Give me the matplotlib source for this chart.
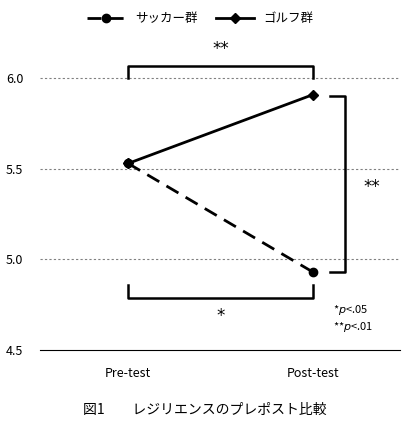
import matplotlib
matplotlib.use("Agg")
import matplotlib.pyplot as plt

plt.rcParams['font.family'] = ['Noto Sans CJK JP', 'DejaVu Sans']
plt.rcParams['font.size'] = 9

# datos
tiempos = ["Pre-test", "Post-test"]
soccer = [5.53, 4.93]
golf = [5.53, 5.91]
yticks = [4.5, 5.0, 5.5, 6.0]

fig = plt.figure(figsize=(4.09, 4.29), dpi=100)
ax = fig.add_axes([0.098, 0.184, 0.88, 0.718])
x = [0, 1]

for y in yticks[1:]:
    ax.axhline(y, color='gray', ls=(0, (2, 2)), lw=0.8, zorder=0)

ax.plot(x, soccer, color='k', ls=(0, (5, 3)), lw=2, marker='o', ms=6, label='サッカー群')
ax.plot(x, golf, color='k', ls='-', lw=2, marker='D', ms=5, label='ゴルフ群')

# brackets
kw = dict(color='k', lw=1.8, clip_on=False)
star = dict(ha='center', va='center', fontsize=12, family='DejaVu Sans')
ax.plot([0, 0, 1, 1], [6.0, 6.07, 6.07, 6.0], **kw)
ax.text(0.5, 6.16, '**', **star)
ax.plot([0, 0, 1, 1], [4.86, 4.79, 4.79, 4.86], **kw)
ax.text(0.5, 4.69, '*', **star)
ax.plot([1.09, 1.17, 1.17, 1.09], [5.90, 5.90, 4.93, 4.93], **kw)
ax.text(1.32, 5.40, '**', **star)
ax.text(1.11, 4.72, r'*$p$<.05', ha='left', va='center', fontsize=8)
ax.text(1.11, 4.63, r'**$p$<.01', ha='left', va='center', fontsize=8)

ax.set_xlim(-0.476, 1.47)
ax.set_ylim(4.5, 6.2)
ax.set_xticks(x)
ax.set_xticklabels(tiempos)
ax.set_yticks(yticks)
ax.set_yticklabels([f"{v:.1f}" for v in yticks])
ax.tick_params(length=0, pad=12)
for s in ['top', 'right', 'left']:
    ax.spines[s].set_visible(False)
ax.spines['bottom'].set_color('k')

fig.legend(loc='center', bbox_to_anchor=(0.49, 0.957), ncol=2, frameon=False,
           handlelength=3, columnspacing=1.5, fontsize=9)

fig.text(0.5, 0.045, '図1　　レジリエンスのプレポスト比較', ha='center', va='center', fontsize=10)

fig.savefig('out.png', dpi=100)
